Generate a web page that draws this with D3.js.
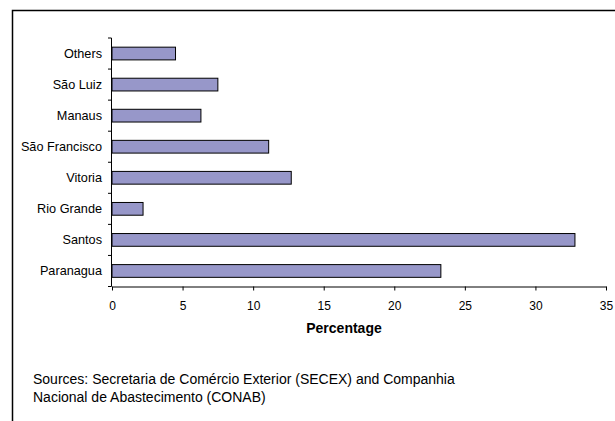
<!DOCTYPE html>
<html><head><meta charset="utf-8">
<script src="https://cdn.jsdelivr.net/npm/d3@7"></script>
<style>body{margin:0;background:#fff}svg{display:block}text{font-family:"Liberation Sans",Arial,sans-serif;fill:#000}</style>
</head><body>
<svg id="c" width="615" height="421"></svg>
<script>
const categories = ["Others","São Luiz","Manaus","São Francisco","Vitoria","Rio Grande","Santos","Paranagua"];
const values = [4.5, 7.5, 6.3, 11.1, 12.7, 2.2, 32.8, 23.3];
const xTicks = [0,5,10,15,20,25,30,35];
const xTitle = "Percentage";
const sourceLines = ["Sources: Secretaria de Comércio Exterior (SECEX) and Companhia","Nacional de Abastecimento (CONAB)"];

const svg = d3.select("#c");
svg.append("rect").attr("x",12.5).attr("y",10.5).attr("width",800).attr("height",600)
  .attr("fill","none").attr("stroke","#000").attr("stroke-width",1.5);

const x = d3.scaleLinear().domain([0,35]).range([112,606]);
const y = d3.scaleBand().domain(categories).range([38,286.5]).padding(0);
const bh = y.bandwidth()*0.41;

svg.append("g").selectAll("rect").data(values).join("rect")
  .attr("x", x(0)).attr("y",(d,i)=>y(categories[i])+(y.bandwidth()-bh)/2)
  .attr("width", d=>x(d)-x(0)).attr("height", bh)
  .attr("fill","#9797C9").attr("stroke","#000").attr("stroke-width",1);

// y axis line and boundary ticks
const yl = svg.append("g");
yl.append("line").attr("x1",111.5).attr("x2",111.5).attr("y1",38).attr("y2",286.5).attr("stroke","#000");
const bounds = categories.map(c=>y(c)).concat([y.range()[1]]);
yl.selectAll("line.t").data(bounds).join("line").attr("class","t")
  .attr("x1",108).attr("x2",111.5).attr("y1",d=>d).attr("y2",d=>d).attr("stroke","#000");
yl.selectAll("text").data(categories).join("text")
  .attr("x",102).attr("y",d=>y(d)+y.bandwidth()/2).attr("dy","0.35em")
  .attr("text-anchor","end").style("font-size","12.7px").text(d=>d);

// x axis
const xa = svg.append("g").attr("transform","translate(0,286.5)")
  .call(d3.axisBottom(x).tickValues(xTicks).tickSize(4).tickPadding(11).tickSizeOuter(0));
xa.select(".domain").attr("stroke","#000");
xa.selectAll("text").style("font-size","12px").style("font-family",'"Liberation Sans",Arial,sans-serif');

svg.append("text").attr("x",344).attr("y",333).attr("text-anchor","middle")
  .style("font-size","14px").style("font-weight","bold").text(xTitle);

svg.append("g").selectAll("text").data(sourceLines).join("text")
  .attr("x",33).attr("y",(d,i)=>384+i*18).style("font-size","14px").text(d=>d);
</script>
</body></html>
